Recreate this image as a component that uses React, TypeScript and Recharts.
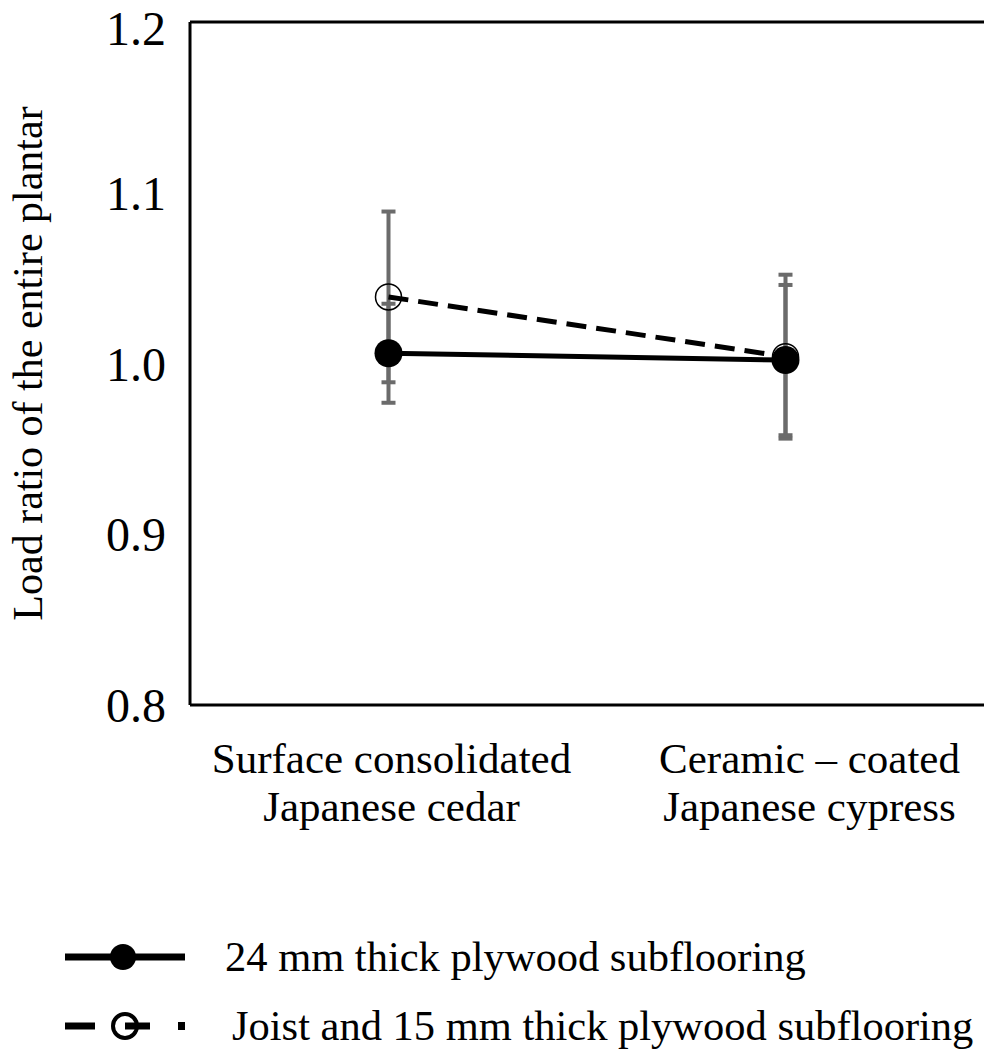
import {
  ComposedChart,
  Line,
  XAxis,
  YAxis,
  ErrorBar,
  ReferenceLine,
  Legend,
  Label
} from 'recharts'

const FONT = '"Liberation Serif", "Times New Roman", serif'

// floor finish materials (x categories), two lines each
const materials = [
  ['Surface consolidated', 'Japanese cedar'],
  ['Ceramic \u2013 coated', 'Japanese cypress']
]

// mean load ratio and standard deviation for each subfloor type
const plywood24 = [1.006, 1.002]
const plywood24Sd = [0.029, 0.044]
const joist15 = [1.039, 1.004]
const joist15Sd = [0.05, 0.048]

const yTicks = [0.8, 0.9, 1.0, 1.1, 1.2]

const seriesNames = {
  plywood24: '24 mm thick plywood subflooring',
  joist15: 'Joist and 15 mm thick plywood subflooring'
}

const data = materials.map((m, i) => ({
  material: m.join('\n'),
  plywood24: plywood24[i],
  plywood24Sd: plywood24Sd[i],
  joist15: joist15[i],
  joist15Sd: joist15Sd[i]
}))

function MaterialTick({ x, y, payload, index }: any) {
  const lines = String(payload.value).split('\n')
  // the right-hand label sits a little right of its category centre
  const tx = x + (index === 1 ? 24 : 3)
  return (
    <text x={tx} y={y} textAnchor="middle" fill="#000" fontFamily={FONT} fontSize={43}>
      {lines.map((line, i) => (
        <tspan key={i} x={tx} dy={i === 0 ? 60 : 48}>
          {line}
        </tspan>
      ))}
    </text>
  )
}

function YTitle({ viewBox }: any) {
  const cx = 28
  const cy = viewBox.y + viewBox.height / 2
  return (
    <text
      x={cx}
      y={cy}
      transform={`rotate(-90 ${cx} ${cy})`}
      textAnchor="middle"
      dominantBaseline="central"
      fill="#000"
      fontFamily={FONT}
      fontSize={42}
    >
      Load ratio of the entire plantar
    </text>
  )
}

function LegendIcon({ dashed }: { dashed: boolean }) {
  if (!dashed) {
    return (
      <svg width={140} height={60} style={{ position: 'absolute', left: 60, top: 0 }}>
        <line x1={5} y1={30} x2={125} y2={30} stroke="#000" strokeWidth={7} />
        <circle cx={63} cy={30} r={13} fill="#000" />
      </svg>
    )
  }
  return (
    <svg width={140} height={60} style={{ position: 'absolute', left: 60, top: 0 }}>
      <line x1={5} y1={30} x2={35} y2={30} stroke="#000" strokeWidth={7} />
      <line x1={65} y1={30} x2={90} y2={30} stroke="#000" strokeWidth={7} />
      <circle cx={65} cy={30} r={12} fill="none" stroke="#000" strokeWidth={4} />
      <rect x={118} y={26} width={7} height={8} fill="#000" />
    </svg>
  )
}

function SeriesLegend({ payload }: any) {
  const items = [...(payload || [])].sort((a: any, b: any) =>
    a.dataKey === 'plywood24' ? -1 : b.dataKey === 'plywood24' ? 1 : 0
  )
  return (
    <div style={{ position: 'relative', width: 984, height: 120 }}>
      {items.map((entry: any, i: number) => {
        const dashed = entry.dataKey === 'joist15'
        return (
          <div
            key={entry.dataKey}
            style={{ position: 'absolute', left: 0, top: i * 69, width: 984, height: 52 }}
          >
            <LegendIcon dashed={dashed} />
            <span
              style={{
                position: 'absolute',
                left: dashed ? 232 : 225,
                top: 8,
                lineHeight: '44px',
                fontFamily: FONT,
                fontSize: 42.5,
                color: '#000',
                whiteSpace: 'nowrap'
              }}
            >
              {entry.value}
            </span>
          </div>
        )
      })}
    </div>
  )
}

export default function App() {
  return (
    <div style={{ position: 'absolute', left: 0, top: 0, width: 984, height: 1051, background: '#fff' }}>
      <ComposedChart
        width={984}
        height={1051}
        data={data}
        margin={{ top: 22, right: 0, bottom: 76, left: 0 }}
      >
        <XAxis
          dataKey="material"
          scale="band"
          height={150}
          axisLine={{ stroke: '#000', strokeWidth: 3 }}
          tickLine={false}
          tick={<MaterialTick />}
          interval={0}
        />
        <YAxis
          width={190}
          domain={[0.8, 1.2]}
          ticks={yTicks}
          allowDataOverflow
          axisLine={{ stroke: '#000', strokeWidth: 3 }}
          tickLine={false}
          tickMargin={18}
          tickFormatter={(v: number) => v.toFixed(1)}
          tick={{ fill: '#000', fontFamily: FONT, fontSize: 48 }}
        >
          <Label content={<YTitle />} />
        </YAxis>
        <ReferenceLine y={1.2} stroke="#000" strokeWidth={3} />
        <Line
          dataKey="joist15"
          name={seriesNames.joist15}
          stroke="#000"
          strokeWidth={5}
          strokeDasharray="20 10"
          dot={{ r: 13, fill: 'none', stroke: '#000', strokeWidth: 1.5, strokeDasharray: '' }}
          activeDot={false}
          isAnimationActive={false}
        >
          <ErrorBar dataKey="joist15Sd" direction="y" width={7} stroke="#6b6b6b" strokeWidth={4} />
        </Line>
        <Line
          dataKey="plywood24"
          name={seriesNames.plywood24}
          stroke="#000"
          strokeWidth={5}
          dot={{ r: 14, fill: '#000', stroke: '#000', strokeWidth: 0 }}
          activeDot={false}
          isAnimationActive={false}
        >
          <ErrorBar dataKey="plywood24Sd" direction="y" width={7} stroke="#6b6b6b" strokeWidth={4} />
        </Line>
        <Legend
          content={<SeriesLegend />}
          wrapperStyle={{ position: 'absolute', left: 0, top: 927, width: 984 }}
        />
      </ComposedChart>
    </div>
  )
}
